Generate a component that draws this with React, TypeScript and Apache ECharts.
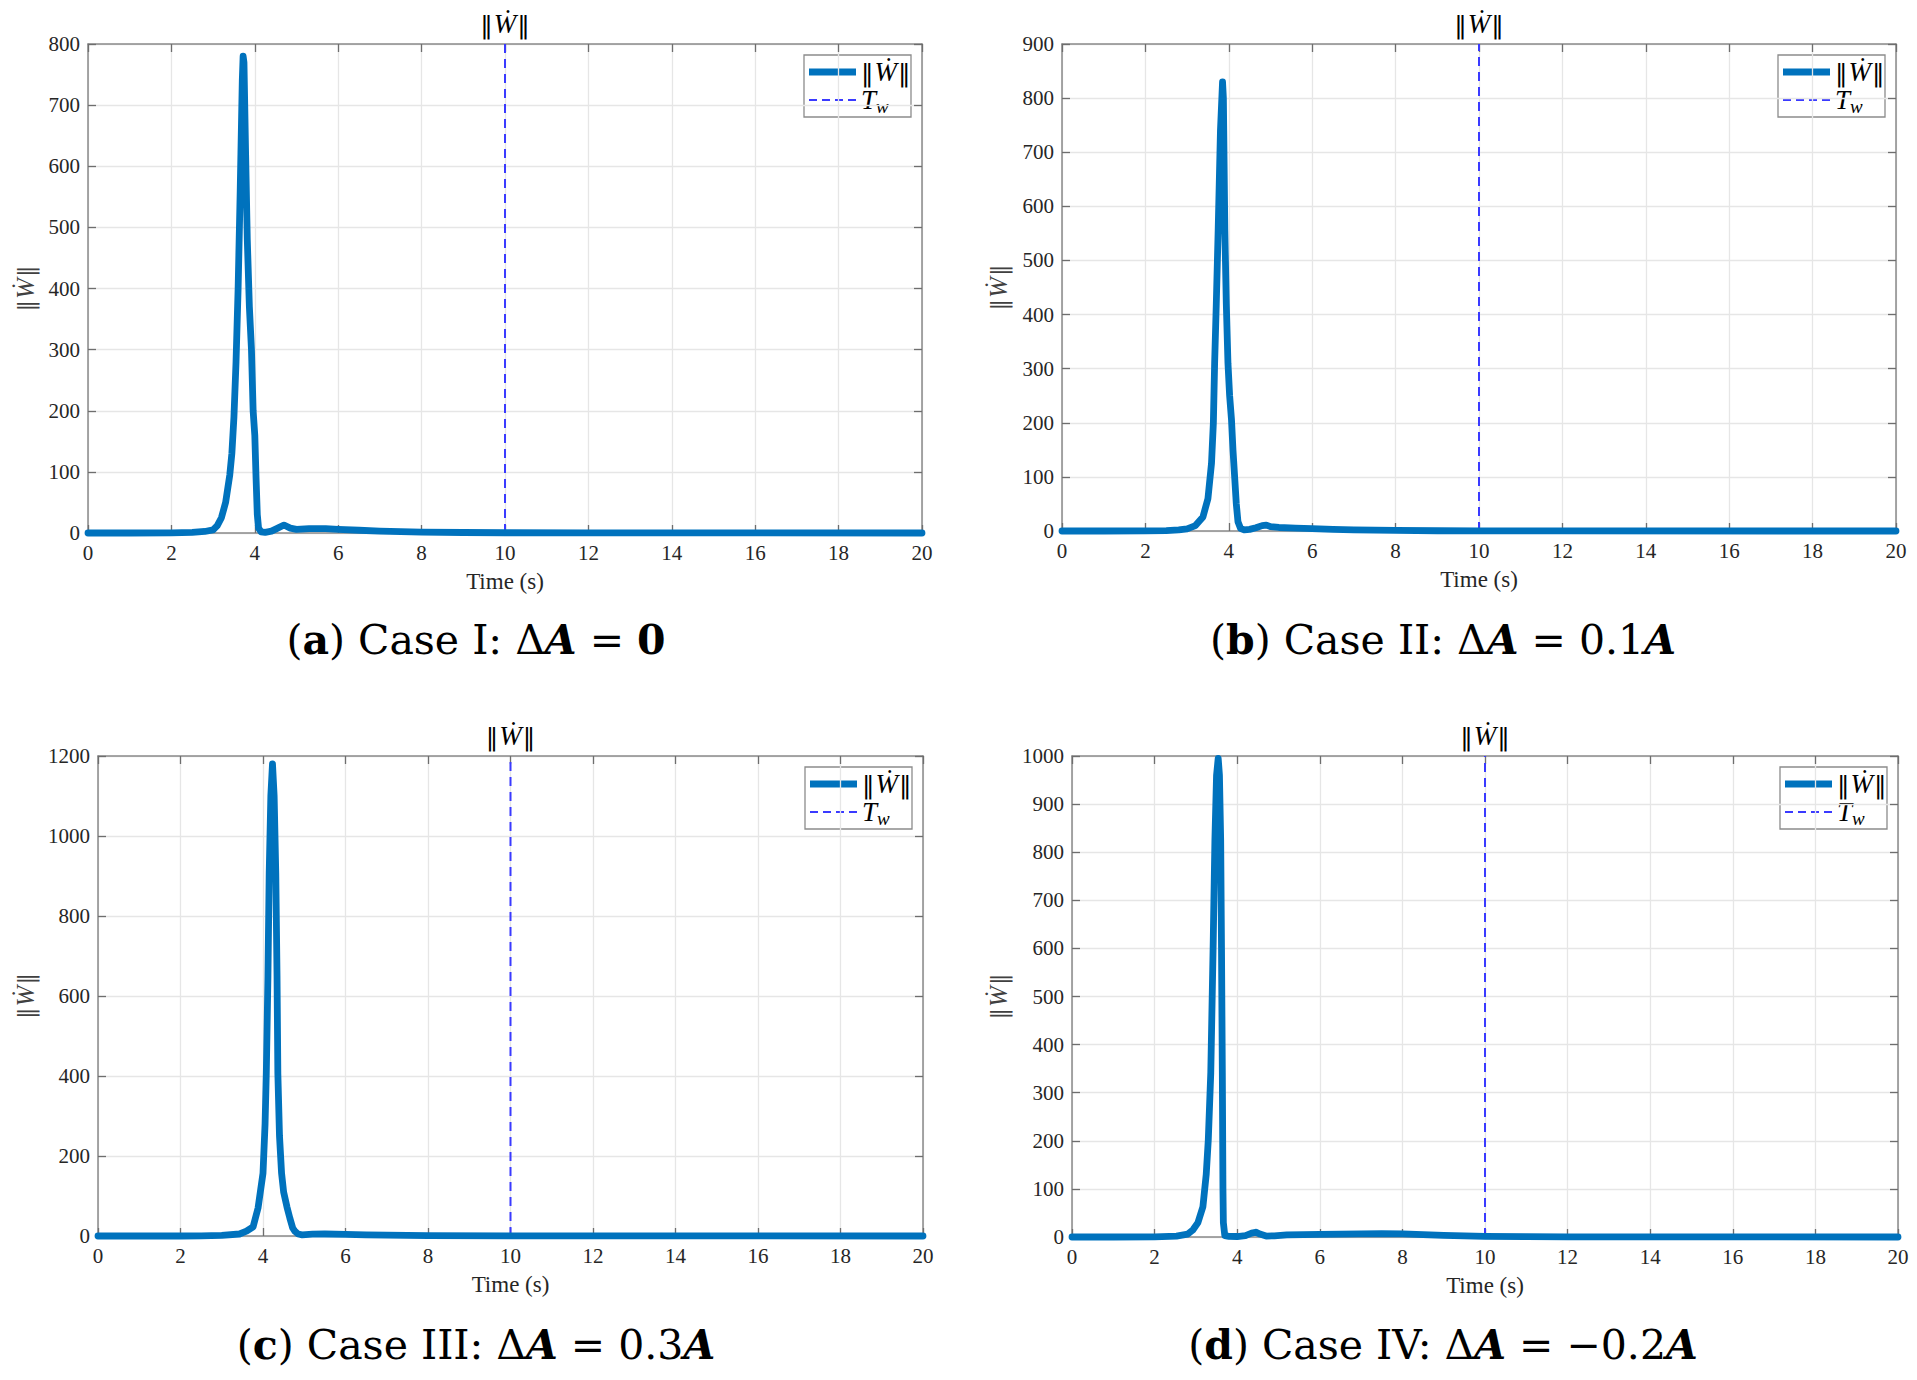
import React, { useEffect, useRef } from "react";
import * as echarts from "echarts";

// ---- data ----
const X_MAX = 20;
const X_INTERVAL = 2;
const TW = 10;

const tA = [0, 1, 2, 2.5, 2.8, 3.0, 3.1, 3.2, 3.3, 3.4, 3.45, 3.5, 3.55, 3.6, 3.65, 3.7, 3.72, 3.74, 3.78, 3.82, 3.87, 3.92, 3.96, 4.0, 4.03, 4.06, 4.09, 4.15, 4.25, 4.4, 4.55, 4.7, 4.85, 5.0, 5.3, 5.7, 6.0, 6.5, 7, 8, 9, 10, 12, 20];
const vA = [0, 0, 0.3, 1, 2.5, 5, 12, 25, 50, 95, 130, 190, 280, 400, 560, 740, 780, 770, 620, 480, 370, 300, 200, 160, 90, 30, 8, 2, 1, 3, 8, 13, 8, 6, 7, 7, 6, 4.5, 3, 1.5, 0.8, 0.4, 0.2, 0];

const tB = [0, 1, 2, 2.5, 2.8, 3.0, 3.2, 3.38, 3.5, 3.585, 3.63, 3.66, 3.7, 3.745, 3.8, 3.85, 3.87, 3.905, 3.94, 3.98, 4.02, 4.065, 4.1, 4.145, 4.18, 4.22, 4.28, 4.37, 4.5, 4.65, 4.8, 4.9, 5.0, 5.2, 5.6, 6, 6.5, 7, 8, 9, 10, 12, 20];
const vB = [0, 0, 0.2, 0.8, 2, 4, 10, 26, 60, 125, 200, 310, 420, 556, 740, 830, 800, 556, 420, 310, 250, 205, 150, 94, 50, 17, 5, 2, 3, 6, 10, 11, 8, 6.5, 5.5, 4.5, 3, 2, 1, 0.5, 0.3, 0.1, 0];

const tC = [0, 1, 2, 2.5, 3.0, 3.43, 3.6, 3.76, 3.88, 4.0, 4.05, 4.08, 4.12, 4.15, 4.19, 4.23, 4.27, 4.31, 4.34, 4.36, 4.4, 4.45, 4.5, 4.58, 4.65, 4.72, 4.77, 4.85, 4.95, 5.2, 5.5, 6, 6.5, 7, 8, 10, 12, 20];
const vC = [0, 0, 0, 0.3, 1.5, 5, 12, 23, 70, 157, 280, 407, 650, 907, 1100, 1180, 1100, 907, 650, 407, 250, 157, 110, 73, 45, 20, 12, 5, 3, 4.5, 5, 4, 3, 2, 1, 0.4, 0.2, 0];

const tD = [0, 1, 2, 2.53, 2.8, 2.93, 3.05, 3.17, 3.25, 3.30, 3.36, 3.42, 3.46, 3.5, 3.54, 3.57, 3.60, 3.62, 3.64, 3.655, 3.665, 3.70, 3.8, 4.0, 4.2, 4.35, 4.45, 4.55, 4.7, 4.9, 5.2, 5.6, 6, 7, 7.5, 8, 8.5, 9, 10, 11, 12, 14, 20];
const vD = [0, 0, 0.3, 2, 6, 15, 30, 63, 130, 202, 341, 617, 825, 960, 995, 960, 825, 600, 341, 100, 30, 3, 1.5, 1, 3, 8, 10, 6, 2, 2.5, 4.5, 5, 5.5, 6.5, 7, 6.5, 5, 3.5, 1.5, 0.8, 0.4, 0.2, 0];

const Y_MAX = [800, 900, 1200, 1000];
const Y_INTERVAL = [100, 100, 200, 100];
const TIMES = [tA, tB, tC, tD];
const VALUES = [vA, vB, vC, vD];

const NORM_LABEL = "{bar|‖}{w|Ẇ}{bar|‖}";
const TW_LABEL = "{w|T}{sub|w}";
const CAPTIONS = [
  "{n|(}{b|a}{n|) Case I: Δ}{bi|A}{n| = }{b|0}",
  "{n|(}{b|b}{n|) Case II: Δ}{bi|A}{n| = 0.1}{bi|A}",
  "{n|(}{b|c}{n|) Case III: Δ}{bi|A}{n| = 0.3}{bi|A}",
  "{n|(}{b|d}{n|) Case IV: Δ}{bi|A}{n| = −0.2}{bi|A}",
];

// ---- layout ----
const W = 1917;
const H = 1380;
const GRIDS = [
  { left: 88, top: 44, width: 834, height: 489 },
  { left: 1062, top: 44, width: 834, height: 487 },
  { left: 98, top: 756, width: 825, height: 480 },
  { left: 1072, top: 756, width: 826, height: 481 },
];
const YNAME_GAP = [50, 51, 60, 61];
const CAPTION_POS = [
  [476, 640],
  [1443, 640],
  [476, 1345],
  [1443, 1345],
];

const SERIF = "'Liberation Serif', 'DejaVu Serif', serif";
const CAP_FONT = "'DejaVu Serif', serif";
const BAR_FONT = "'DejaVu Serif', serif";
const MAIN = "#0072BD";
const TW_COLOR = "#3a3aff";
const AXIS = "#8a8a8a";

const mathRich = (size: number, color: string) => ({
  bar: { fontFamily: BAR_FONT, fontSize: size - 2, color, padding: [0, 1, 0, 1] },
  w: { fontFamily: SERIF, fontSize: size, color, fontStyle: "italic" },
  sub: {
    fontFamily: SERIF,
    fontSize: Math.round(size * 0.7),
    color,
    fontStyle: "italic",
    padding: [size * 0.45, 0, 0, 0],
  },
});

export default function App() {
  const ref = useRef<HTMLDivElement>(null);

  useEffect(() => {
    document.body.style.margin = "0";
    const chart = echarts.init(ref.current!, undefined, { renderer: "svg" });

    const grid: any[] = [];
    const xAxis: any[] = [];
    const yAxis: any[] = [];
    const series: any[] = [];
    const graphic: any[] = [];

    for (let i = 0; i < 4; i++) {
      const g = GRIDS[i];
      grid.push({ ...g, containLabel: false });
      const tickCommon = {
        show: true,
        inside: true,
        length: 8,
        lineStyle: { color: "#6e6e6e", width: 1.3 },
      };
      const lineCommon = { show: true, onZero: false, lineStyle: { color: AXIS, width: 1.5 } };
      xAxis.push({
        type: "value",
        gridIndex: i,
        min: 0,
        max: X_MAX,
        interval: X_INTERVAL,
        position: "bottom",
        axisLine: lineCommon,
        axisTick: tickCommon,
        axisLabel: {
          fontFamily: SERIF,
          fontSize: 21,
          color: "#262626",
          margin: 9,
          formatter: (v: number) => String(v),
        },
        splitLine: { show: true, lineStyle: { color: "#e6e6e6", width: 1.3 } },
        name: "Time (s)",
        nameLocation: "middle",
        nameGap: 37,
        nameTextStyle: { fontFamily: SERIF, fontSize: 23, color: "#262626" },
      });
      xAxis.push({
        type: "value",
        gridIndex: i,
        min: 0,
        max: X_MAX,
        interval: X_INTERVAL,
        position: "top",
        axisLine: lineCommon,
        axisTick: tickCommon,
        axisLabel: { show: false },
        splitLine: { show: false },
      });
      yAxis.push({
        type: "value",
        gridIndex: i,
        min: 0,
        max: Y_MAX[i],
        interval: Y_INTERVAL[i],
        position: "left",
        axisLine: lineCommon,
        axisTick: tickCommon,
        axisLabel: {
          fontFamily: SERIF,
          fontSize: 21,
          color: "#262626",
          margin: 8,
          formatter: (v: number) => String(v),
        },
        splitLine: { show: true, lineStyle: { color: "#e6e6e6", width: 1.3 } },
        name: NORM_LABEL,
        nameLocation: "middle",
        nameGap: YNAME_GAP[i],
        nameTextStyle: { rich: mathRich(25, "#404040") },
      });
      yAxis.push({
        type: "value",
        gridIndex: i,
        min: 0,
        max: Y_MAX[i],
        interval: Y_INTERVAL[i],
        position: "right",
        axisLine: lineCommon,
        axisTick: tickCommon,
        axisLabel: { show: false },
        splitLine: { show: false },
      });

      const data = TIMES[i].map((t, k) => [t, VALUES[i][k]]);
      series.push({
        type: "line",
        name: "W",
        xAxisIndex: 2 * i,
        yAxisIndex: 2 * i,
        data,
        symbol: "none",
        showSymbol: false,
        clip: false,
        z: 3,
        lineStyle: { color: MAIN, width: 6.8, cap: "round", join: "round" },
        itemStyle: { color: MAIN },
      });
      series.push({
        type: "line",
        name: "Tw",
        xAxisIndex: 2 * i,
        yAxisIndex: 2 * i,
        data: [
          [TW, 0],
          [TW, Y_MAX[i]],
        ],
        symbol: "none",
        showSymbol: false,
        z: 2,
        lineStyle: { color: TW_COLOR, width: 2, type: [9, 6] },
        itemStyle: { color: TW_COLOR },
      });

      // legend box (drawn as decoration)
      const lx = g.left + g.width - 11 - 107;
      const ly = g.top + 11;
      graphic.push({
        type: "group",
        x: lx,
        y: ly,
        z: 100,
        children: [
          {
            type: "rect",
            shape: { x: 0, y: 0, width: 107, height: 62 },
            style: { fill: "#fff", stroke: "#8c8c8c", lineWidth: 1.3 },
          },
          {
            type: "line",
            shape: { x1: 5, y1: 17, x2: 52, y2: 17 },
            style: { stroke: MAIN, lineWidth: 7 },
          },
          {
            type: "line",
            shape: { x1: 5, y1: 45, x2: 52, y2: 45 },
            style: { stroke: TW_COLOR, lineWidth: 2, lineDash: [8, 5] },
          },
          {
            type: "text",
            x: 56,
            y: 17,
            style: {
              text: NORM_LABEL,
              rich: mathRich(27, "#000"),
              align: "left",
              verticalAlign: "middle",
            },
          },
          {
            type: "text",
            x: 57,
            y: 45,
            style: {
              text: TW_LABEL,
              rich: mathRich(27, "#000"),
              align: "left",
              verticalAlign: "middle",
            },
          },
        ],
      });

      graphic.push({
        type: "text",
        x: g.left + g.width / 2,
        y: g.top - 20,
        style: {
          text: NORM_LABEL,
          rich: mathRich(27, "#000"),
          align: "center",
          verticalAlign: "middle",
        },
      });
      graphic.push({
        type: "text",
        x: CAPTION_POS[i][0],
        y: CAPTION_POS[i][1],
        style: {
          text: CAPTIONS[i],
          align: "center",
          verticalAlign: "middle",
          rich: {
            n: { fontFamily: CAP_FONT, fontSize: 41, color: "#000" },
            b: { fontFamily: CAP_FONT, fontSize: 41, color: "#000", fontWeight: "bold" },
            bi: {
              fontFamily: CAP_FONT,
              fontSize: 41,
              color: "#000",
              fontWeight: "bold",
              fontStyle: "italic",
            },
          },
        },
      });
    }

    chart.setOption({
      animation: false,
      backgroundColor: "#fff",
      grid,
      xAxis,
      yAxis,
      series,
      graphic,
    });
    return () => chart.dispose();
  }, []);

  return <div ref={ref} style={{ width: W, height: H }} />;
}
